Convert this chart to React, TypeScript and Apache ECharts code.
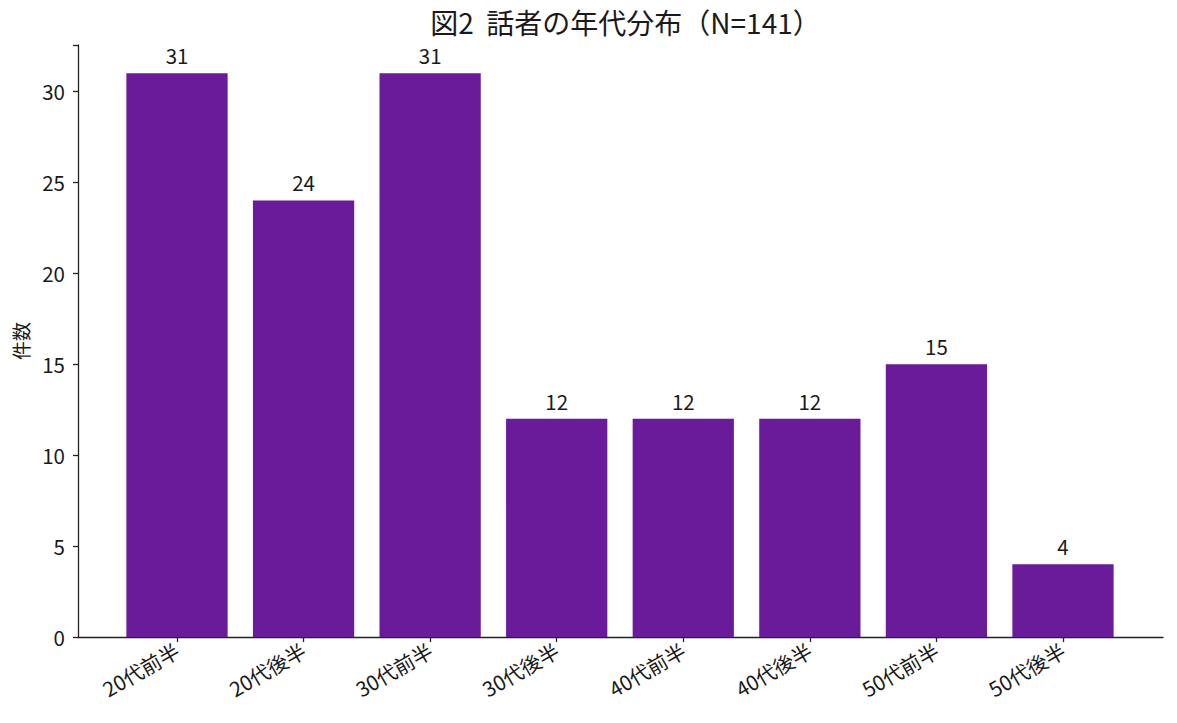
import React, { useEffect, useRef } from "react";
import * as echarts from "echarts";

const categories = ["20代前半", "20代後半", "30代前半", "30代後半", "40代前半", "40代後半", "50代前半", "50代後半"];
const counts = [31, 24, 31, 12, 12, 12, 15, 4];
const yTicks = [0, 5, 10, 15, 20, 25, 30];
const titleText = "図2  話者の年代分布（N=141）";
const yName = "件数";

const FONT = "'Noto Sans CJK JP', 'Noto Sans', sans-serif";
const WEIGHT = "normal";

export default function App() {
  const ref = useRef<HTMLDivElement>(null);
  useEffect(() => {
    if (!ref.current) return;
    const chart = echarts.init(ref.current, null, { renderer: "svg" });
    const yMax = 32.55;
    const plotLeft = 78;
    const plotRight = 1163;
    const plotTop = 45;
    const plotBottom = 637;
    const band = 126.57;
    const barLeft = 177 - band / 2;
    chart.setOption({
      animation: false,
      backgroundColor: "#ffffff",
      textStyle: { fontFamily: FONT },
      title: {
        text: titleText,
        left: (plotLeft + plotRight) / 2,
        textAlign: "center",
        top: 3,
        textStyle: { fontFamily: FONT, fontSize: 28, fontWeight: WEIGHT, color: "#1a1a1a" },
      },
      grid: [
        { left: plotLeft, right: 1177 - plotRight, top: plotTop, bottom: 723 - plotBottom, containLabel: false },
        { left: barLeft, width: band * categories.length, top: plotTop, bottom: 723 - plotBottom, containLabel: false },
      ],
      xAxis: [
        {
          type: "value",
          gridIndex: 0,
          min: 0,
          max: 1,
          axisLine: { show: true, lineStyle: { color: "#222", width: 1.3 } },
          axisTick: { show: false },
          axisLabel: { show: false },
          splitLine: { show: false },
        },
        {
          type: "category",
          gridIndex: 1,
          data: categories,
          axisLine: { show: false },
          axisTick: { show: true, alignWithLabel: true, length: 5, lineStyle: { color: "#222", width: 1.3 } },
          axisLabel: {
            rotate: 30,
            interval: 0,
            fontSize: 20.5,
            fontWeight: WEIGHT,
            color: "#1a1a1a",
            fontFamily: FONT,
            margin: 11,
          },
          splitLine: { show: false },
        },
      ],
      yAxis: [
        {
          type: "value",
          gridIndex: 0,
          min: 0,
          max: yMax,
          interval: 5,
          name: yName,
          nameLocation: "middle",
          nameGap: 48,
          nameRotate: 90,
          nameTextStyle: { fontSize: 19, fontWeight: WEIGHT, color: "#1a1a1a", fontFamily: FONT },
          axisLine: { show: true, lineStyle: { color: "#222", width: 1.3 } },
          axisTick: { show: true, length: 5, lineStyle: { color: "#222", width: 1.3 } },
          axisLabel: {
            fontSize: 20.5,
            fontWeight: WEIGHT,
            color: "#1a1a1a",
            margin: 13,
            fontFamily: FONT,
            formatter: (v: number) => (yTicks.includes(v) ? String(v) : ""),
          },
          splitLine: { show: false },
        },
        {
          type: "value",
          gridIndex: 1,
          min: 0,
          max: yMax,
          show: false,
        },
      ],
      series: [
        {
          type: "bar",
          xAxisIndex: 1,
          yAxisIndex: 1,
          data: counts,
          barWidth: "80%",
          itemStyle: { color: "#6a1b9a" },
          label: {
            show: true,
            position: "top",
            distance: 8,
            fontSize: 20.5,
            fontWeight: WEIGHT,
            color: "#1a1a1a",
            fontFamily: FONT,
          },
        },
      ],
    });
    return () => chart.dispose();
  }, []);
  return (
    <div
      ref={ref}
      style={{ position: "fixed", left: 0, top: 0, width: 1177, height: 723, background: "#fff" }}
    />
  );
}
